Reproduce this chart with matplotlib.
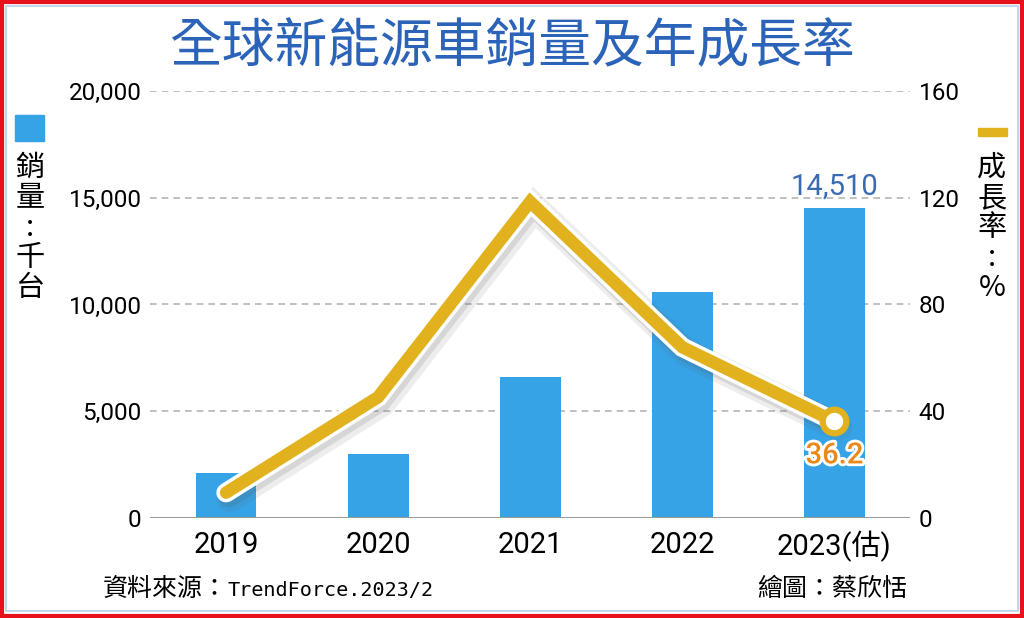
import numpy as np
import matplotlib.pyplot as plt
import matplotlib.patheffects as pe
from matplotlib.patches import Rectangle

plt.rcParams['font.family'] = ['Noto Sans CJK TC', 'DejaVu Sans']

# 資料
years = ['2019', '2020', '2021', '2022', '2023(估)']
sales = [2100, 3000, 6600, 10600, 14510]      # 千台
growth = [9.5, 45.3, 118.5, 64.0, 36.2]       # %

bar_color = '#36a3e6'
line_color = '#e2b21e'
title_color = '#2b63b8'

fig = plt.figure(figsize=(10.24, 6.18), dpi=100)
ax = fig.add_axes([0.1465, 0.1618, 0.7425, 0.691])
ax2 = ax.twinx()

x = np.arange(len(years))
ax.bar(x, sales, width=0.4, color=bar_color, zorder=2)
ax.set_xlim(-0.5, 4.5)
ax.set_ylim(0, 20000)
ax.set_yticks([0, 5000, 10000, 15000, 20000])
ax.set_yticklabels(['{:,}'.format(v) for v in [0, 5000, 10000, 15000, 20000]],
                   fontsize=17.5, family='Roboto')
ax.set_xticks(x)
ax.set_xticklabels(years, fontsize=21, family=['Roboto', 'Noto Sans CJK TC'])
ax.tick_params(axis='y', length=0, pad=6)
ax.tick_params(axis='x', length=0, pad=9)
for v in [5000, 10000, 15000, 20000]:
    ax.axhline(v, color='#b5b5b5', lw=1.2, ls=(0, (4, 3)), zorder=1)
ax.axhline(0, color='#9a9a9a', lw=2.2, zorder=3)
for s in ax.spines.values():
    s.set_visible(False)

ax2.set_ylim(0, 160)
ax2.set_yticks([0, 40, 80, 120, 160])
ax2.set_yticklabels(['0', '40', '80', '120', '160'], fontsize=17.5, family='Roboto')
ax2.tick_params(axis='y', length=0, pad=6)
for s in ax2.spines.values():
    s.set_visible(False)

ax2.plot(x, growth, color=line_color, lw=9, solid_joinstyle='miter',
         solid_capstyle='round', zorder=4,
         path_effects=[pe.SimpleLineShadow(offset=(3, -4), shadow_color='#555555', alpha=0.10, linewidth=20),
                       pe.SimpleLineShadow(offset=(2, -3), shadow_color='#555555', alpha=0.15, linewidth=15),
                       pe.Stroke(linewidth=14, foreground='white'),
                       pe.Normal()])
ax2.plot(x[-1], growth[-1], 'o', ms=17, mfc='white', mec=line_color, mew=4.5, zorder=5)

ax.text(x[-1], sales[-1] + 350, '{:,}'.format(sales[-1]), ha='center', va='bottom',
        fontsize=21, color='#3a6ab0', family='Roboto')
ax2.text(x[-1], growth[-1] - 7.5, '{:.1f}'.format(growth[-1]), ha='center', va='top',
         fontsize=21, color='#e8891a', family='Roboto', fontweight='medium', zorder=6,
         path_effects=[pe.Stroke(linewidth=4, foreground='white'), pe.Normal()])

# 標題
fig.text(0.5, 0.925, '全球新能源車銷量及年成長率', ha='center', va='center',
         fontsize=38, color=title_color, fontweight='medium')

# 左右軸說明
fig.patches.append(Rectangle((15 / 1024, 1 - 141 / 618), 29 / 1024, 26 / 618,
                             transform=fig.transFigure, color=bar_color))
fig.text(30 / 1024, 1 - 228 / 618, '\n'.join('銷量:千台'), ha='center', va='center',
         fontsize=21, linespacing=1.0)
fig.patches.append(Rectangle((978 / 1024, 1 - 136 / 618), 29 / 1024, 8 / 618,
                             transform=fig.transFigure, color=line_color))
fig.text(992 / 1024, 1 - 228 / 618, '\n'.join('成長率:%'), ha='center', va='center',
         fontsize=21, linespacing=1.0)

# 資料來源
base_y = 1 - 596 / 618
t1 = fig.text(103 / 1024, base_y, '資料來源：', ha='left', va='baseline', fontsize=18)
fig.canvas.draw()
x1 = t1.get_window_extent().x1 / fig.bbox.width
fig.text(x1, base_y, 'TrendForce.2023/2', ha='left', va='baseline',
         fontsize=14.5, family='DejaVu Sans Mono')
fig.text(907 / 1024, base_y, '繪圖：蔡欣恬', ha='right', va='baseline', fontsize=18)

# 外框
fig.patches.append(Rectangle((0.002, 0.003), 0.996, 0.994, transform=fig.transFigure,
                             fill=False, ec='#e8101a', lw=3))
fig.patches.append(Rectangle((0.006, 0.011), 0.988, 0.98, transform=fig.transFigure,
                             fill=False, ec='#b8d0ea', lw=1.2))

fig.savefig('out.png', dpi=100)
